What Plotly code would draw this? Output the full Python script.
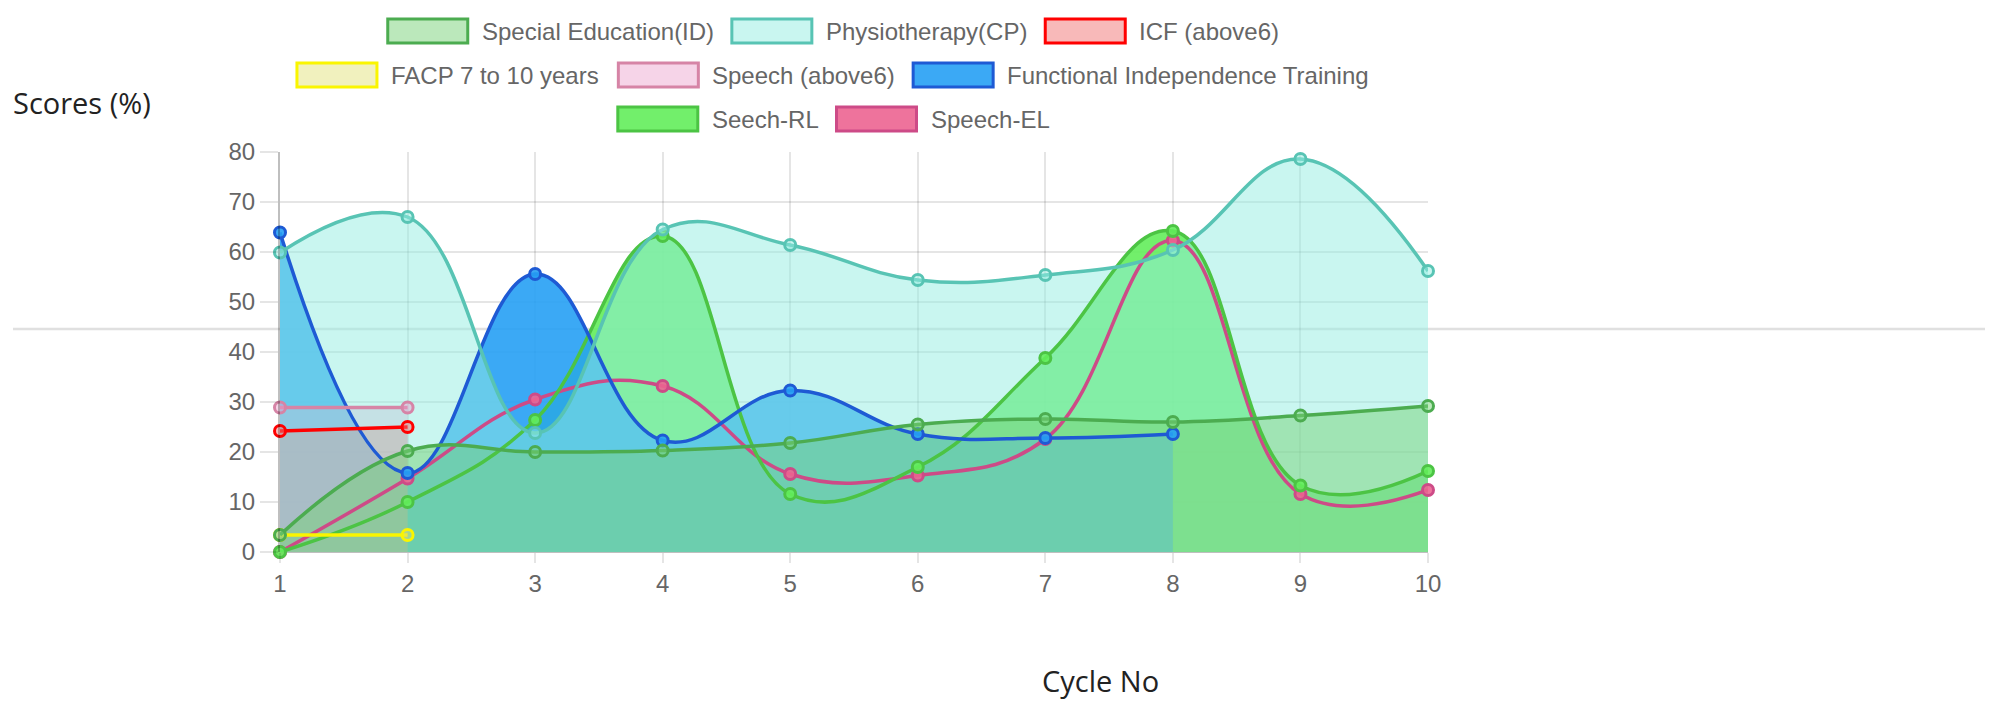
import plotly.graph_objects as go

# ---------------- data ----------------
cycles = [1, 2, 3, 4, 5, 6, 7, 8, 9, 10]
special_education = [3.4, 20.2, 20.0, 20.3, 21.8, 25.5, 26.6, 26.0, 27.3, 29.2]
physiotherapy = [59.9, 67.0, 23.8, 64.5, 61.4, 54.4, 55.4, 60.4, 78.6, 56.2]
icf_above6 = [24.2, 25.0]
facp_7_10 = [3.4, 3.4]
speech_above6 = [28.9, 28.9]
functional_independence = [63.9, 15.8, 55.6, 22.3, 32.3, 23.6, 22.8, 23.6]
seech_rl = [0.0, 10.0, 26.4, 63.2, 11.6, 17.0, 38.8, 64.2, 13.3, 16.2]
speech_el = [0.0, 14.7, 30.5, 33.2, 15.6, 15.3, 22.6, 62.3, 11.6, 12.4]

series_names = ["Special Education(ID)", "Physiotherapy(CP)", "ICF (above6)",
                "FACP 7 to 10 years", "Speech (above6)", "Functional Independence Training",
                "Seech-RL", "Speech-EL"]
series_values = [special_education, physiotherapy, icf_above6, facp_7_10,
                 speech_above6, functional_independence, seech_rl, speech_el]

# ---------------- styles ----------------
border_colors = ["rgb(76,172,80)", "rgb(88,196,180)", "rgb(255,0,0)", "rgb(250,245,0)",
                 "rgb(214,132,166)", "rgb(30,90,212)", "rgb(76,196,68)", "rgb(205,75,135)"]
fill_colors = ["rgba(119,210,120,0.5)", "rgba(147,237,225,0.5)", "rgba(241,115,115,0.5)",
               "rgba(225,225,110,0.45)", "rgba(235,160,205,0.45)", "rgba(38,160,244,0.9)",
               "rgba(99,237,91,0.9)", "rgba(236,100,145,0.9)"]
area_filled = [True, True, True, False, True, True, True, False]

# page offset of the figure (default body margin)
OFF = 8
W, H = 1995, 701
ML, MT, PW, PH = 280 - OFF, 152 - OFF, 1148, 400
MR, MB = W - ML - PW, H - MT - PH


def px(x):
    """page pixel x -> paper coordinate"""
    return (x - OFF - ML) / PW


def py(y):
    """page pixel y -> paper coordinate"""
    return (MT + PH - (y - OFF)) / PH


fig = go.Figure()
SMOOTH = 1.2

# fills first (drawn in reverse dataset order like Chart.js)
for i in reversed(range(len(series_names))):
    if not area_filled[i]:
        continue
    vals = series_values[i]
    fig.add_trace(go.Scatter(
        x=cycles[:len(vals)], y=vals, mode="lines",
        line=dict(width=0, shape="spline", smoothing=SMOOTH),
        fill="tozeroy", fillcolor=fill_colors[i],
        hoverinfo="skip", showlegend=False))

# lines and points
for i in reversed(range(len(series_names))):
    vals = series_values[i]
    fig.add_trace(go.Scatter(
        x=cycles[:len(vals)], y=vals, mode="lines+markers", name=series_names[i],
        line=dict(width=3.5, color=border_colors[i], shape="spline", smoothing=SMOOTH),
        marker=dict(size=11, color=fill_colors[i], line=dict(width=3, color=border_colors[i])),
        cliponaxis=False, showlegend=False))

# ---------------- custom legend (Chart.js style, centered rows) ----------------
legend_rows = [[0, 1, 2], [3, 4, 5], [6, 7]]
text_widths = [232.1, 201.4, 140.0, 209.4, 182.8, 362.9, 106.7, 118.7]
row_centers_y = [31, 75, 119]
legend_center_x = 842.5
BOX_W, BOX_H, GAP, PAD = 80, 24, 12, 20
shapes = []
annotations = []
for r, row in enumerate(legend_rows):
    total = sum(BOX_W + GAP + text_widths[i] + PAD for i in row)
    x = legend_center_x - total / 2
    yc = row_centers_y[r]
    for i in row:
        shapes.append(dict(type="rect", xref="paper", yref="paper",
                           x0=px(x), x1=px(x + BOX_W), y0=py(yc + BOX_H / 2), y1=py(yc - BOX_H / 2),
                           fillcolor=fill_colors[i], line=dict(color=border_colors[i], width=3)))
        annotations.append(dict(xref="paper", yref="paper", x=px(x + BOX_W + GAP), y=py(yc),
                                xanchor="left", yanchor="middle", showarrow=False,
                                text=series_names[i],
                                font=dict(family="Liberation Sans, Arial", size=24, color="#666")))
        x += BOX_W + GAP + text_widths[i] + PAD

# stray full-width horizontal rule behind the chart
shapes.append(dict(type="line", xref="paper", yref="paper", layer="below",
                   x0=px(13), x1=px(1985), y0=py(329), y1=py(329),
                   line=dict(color="#e0e0e0", width=2.5)))

# axis titles
annotations.append(dict(xref="paper", yref="paper", x=px(11), y=py(103),
                        xanchor="left", yanchor="middle", showarrow=False, text="Scores (%)",
                        font=dict(family="Open Sans", size=29, color="#222")))
annotations.append(dict(xref="paper", yref="paper", x=px(1100), y=py(680),
                        xanchor="center", yanchor="middle", showarrow=False, text="Cycle No",
                        font=dict(family="Open Sans", size=29, color="#222")))

tick_font = dict(family="Liberation Sans, Arial", size=24, color="#666")
fig.update_layout(
    width=W, height=H, autosize=False,
    margin=dict(l=ML, r=MR, t=MT, b=MB, pad=0),
    paper_bgcolor="white", plot_bgcolor="white",
    showlegend=False,
    shapes=shapes, annotations=annotations,
    xaxis=dict(range=[1, 10], tickmode="array", tickvals=cycles, ticktext=[str(c) for c in cycles],
               showgrid=True, gridcolor="rgba(0,0,0,0.1)", gridwidth=2,
               ticks="outside", ticklen=10, tickwidth=2, tickcolor="rgba(0,0,0,0.1)",
               tickfont=tick_font, zeroline=False, showline=False, fixedrange=True),
    yaxis=dict(range=[0, 80], dtick=10, tick0=0,
               showgrid=True, gridcolor="rgba(0,0,0,0.1)", gridwidth=2,
               ticks="outside", ticklen=18, tickwidth=2, tickcolor="rgba(0,0,0,0.1)",
               tickfont=tick_font, zeroline=True, zerolinecolor="rgba(0,0,0,0.25)", zerolinewidth=2,
               showline=True, linecolor="rgba(0,0,0,0.25)", linewidth=2, fixedrange=True),
)

fig.write_html("out.html")
